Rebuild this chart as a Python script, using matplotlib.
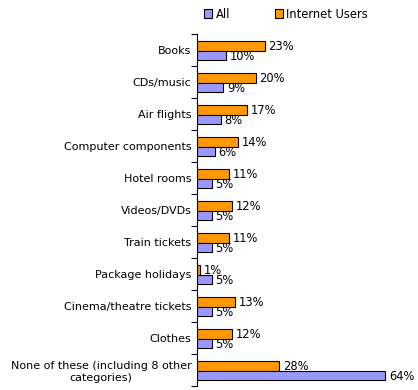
import numpy as np
import matplotlib.pyplot as plt
from matplotlib.patches import Patch

categories = ["Books", "CDs/music", "Air flights", "Computer components",
              "Hotel rooms", "Videos/DVDs", "Train tickets", "Package holidays",
              "Cinema/theatre tickets", "Clothes",
              "None of these (including 8 other\ncategories)"]
internet_users = [23, 20, 17, 14, 11, 12, 11, 1, 13, 12, 28]
all_users = [10, 9, 8, 6, 5, 5, 5, 5, 5, 5, 64]

c_all = "#9999FF"
c_net = "#FF9900"

fig = plt.figure(figsize=(4.18, 3.90), dpi=100)
ax = fig.add_axes([197/418, 4/390, 206/418, 352/390])

y = np.arange(len(categories))
h = 0.3
ax.barh(y - h/2 + 0.02, internet_users, height=h, color=c_net, edgecolor="black", linewidth=0.8)
ax.barh(y + h/2 + 0.02, all_users, height=h, color=c_all, edgecolor="black", linewidth=0.8)

for i in range(len(categories)):
    ax.text(internet_users[i] + 1.2, y[i] - h/2 + 0.05, "%d%%" % internet_users[i],
            va="center", ha="left", fontsize=8.3)
    ax.text(all_users[i] + 1.2, y[i] + h/2 + 0.05, "%d%%" % all_users[i],
            va="center", ha="left", fontsize=8.3)

ax.set_xlim(0, 70)
ax.set_ylim(len(categories) - 0.5, -0.5)
ax.set_yticks(y)
ax.set_yticklabels(categories, fontsize=8, multialignment="center")
ax.set_yticks(np.arange(-0.5, len(categories)), minor=True)
ax.tick_params(axis="y", which="major", length=0, pad=4)
ax.tick_params(axis="y", which="minor", length=4, width=0.8, direction="out")
ax.set_xticks([])
for s in ["top", "right", "bottom"]:
    ax.spines[s].set_visible(False)
ax.spines["left"].set_linewidth(0.8)

handles = [Patch(facecolor=c_all, edgecolor="black", linewidth=0.8, label="All"),
           Patch(facecolor=c_net, edgecolor="black", linewidth=0.8, label="Internet Users")]
fig.legend(handles=handles, loc="center left", bbox_to_anchor=(204/418, 1 - 14/390),
           ncol=2, frameon=False, fontsize=8.3, handlelength=0.7, handleheight=0.7,
           handletextpad=0.3, columnspacing=3.9, borderaxespad=0, borderpad=0)

fig.savefig("out.png", dpi=100)
